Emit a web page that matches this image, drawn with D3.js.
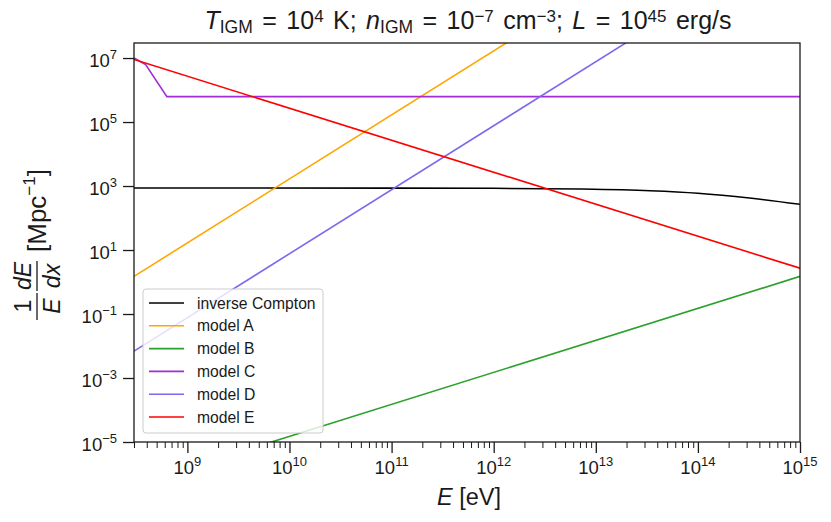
<!DOCTYPE html>
<html>
<head>
<meta charset="utf-8">
<script src="https://cdn.jsdelivr.net/npm/d3@7"></script>
<style>
  body { margin: 0; background: white; }
  text { font-family: "Liberation Sans", Arial, sans-serif; fill: #1a1a1a; }
</style>
</head>
<body>
<div id="container"></div>
<script>
// values

let icEnergy = [3e8, 1e11, 1e12, 7e12, 3.4e13, 1e14, 3.2e14, 1e15];
let icRate = [870, 860, 848, 806, 713, 595, 422, 268];

let aEnergy = [3e8, 2e12];
let aRate = [1.5, 6.7e7];

let bEnergy = [3e8, 1e15];
let bRate = [4.5e-7, 1.5];

let cEnergy = [3e8, 3.9e8, 6.3e8, 1e15];
let cRate = [1e7, 6.2e6, 6.2e5, 6.2e5];

let dEnergy = [3e8, 3e13];
let dRate = [0.0069, 6.9e7];

let eEnergy = [3e8, 1e15];
let eRate = [9e6, 2.7];

let seriesNames = ["inverse Compton", "model A", "model B", "model C", "model D", "model E"];
let seriesColors = ["#000000", "#ffa500", "#2ca02c", "#a32cd6", "#7b68ee", "#ff0000"];

let xTickExp = [9, 10, 11, 12, 13, 14, 15];
let yTickExp = [-5, -3, -1, 1, 3, 5, 7];

let width = 831, height = 522;
let plotLeft = 134, plotRight = 800, plotTop = 43, plotBottom = 442;

let viz = d3.select("#container")
  .append("svg")
    .attr("width", width)
    .attr("height", height)
    .style("background-color", "white");

let x = d3.scaleLog().domain([3e8, 1e15]).range([plotLeft, plotRight]);
let y = d3.scaleLog().domain([1e-5, 2.95e7]).range([plotBottom, plotTop]);

viz.append("clipPath").attr("id", "plotclip")
  .append("rect")
    .attr("x", plotLeft).attr("y", plotTop)
    .attr("width", plotRight - plotLeft).attr("height", plotBottom - plotTop);

// data lines
let series = [
  d3.zip(icEnergy, icRate),
  d3.zip(aEnergy, aRate),
  d3.zip(bEnergy, bRate),
  d3.zip(cEnergy, cRate),
  d3.zip(dEnergy, dRate),
  d3.zip(eEnergy, eRate)
];

let line = d3.line().x(d => x(d[0])).y(d => y(d[1]));

viz.append("g").attr("clip-path", "url(#plotclip)")
  .selectAll("path")
  .data(series)
  .join("path")
    .attr("d", (d, i) => i == 0 ? line.curve(d3.curveMonotoneX)(d) : line.curve(d3.curveLinear)(d))
    .attr("fill", "none")
    .attr("stroke", (d, i) => seriesColors[i])
    .attr("stroke-width", 1.6);

// axes
let xMinor = [];
for (let k = 8; k <= 14; k++) {
  for (let m = 2; m <= 9; m++) {
    let v = m * Math.pow(10, k);
    if (v >= 3e8 && v <= 1e15) xMinor.push(v);
  }
}

viz.append("g")
  .attr("transform", `translate(0,${plotBottom})`)
  .call(d3.axisBottom(x).tickValues(xMinor).tickSize(6).tickFormat(""))
  .call(g => g.select(".domain").remove())
  .call(g => g.selectAll("line").attr("stroke", "#1a1a1a").attr("stroke-width", 1));

viz.append("g")
  .attr("transform", `translate(0,${plotBottom})`)
  .call(d3.axisBottom(x).tickValues(xTickExp.map(e => Math.pow(10, e))).tickSize(11).tickFormat(""))
  .call(g => g.select(".domain").remove())
  .call(g => g.selectAll("line").attr("stroke", "#1a1a1a").attr("stroke-width", 1.3));

viz.append("g")
  .attr("transform", `translate(${plotLeft},0)`)
  .call(d3.axisLeft(y).tickValues(yTickExp.map(e => Math.pow(10, e))).tickSize(11).tickFormat(""))
  .call(g => g.select(".domain").remove())
  .call(g => g.selectAll("line").attr("stroke", "#1a1a1a").attr("stroke-width", 1.3));

// tick labels as 10^n
let xLabels = viz.append("g").selectAll("text")
  .data(xTickExp)
  .join("text")
    .attr("x", d => x(Math.pow(10, d)))
    .attr("y", 474)
    .attr("text-anchor", "middle")
    .attr("font-size", 18.5);
xLabels.append("tspan").text("10");
xLabels.append("tspan").text(d => d).attr("dy", -8).attr("font-size", 13);

let yLabels = viz.append("g").selectAll("text")
  .data(yTickExp)
  .join("text")
    .attr("x", 117)
    .attr("y", d => y(Math.pow(10, d)) + 8.5)
    .attr("text-anchor", "end")
    .attr("font-size", 18.5);
yLabels.append("tspan").text("10");
yLabels.append("tspan").text(d => String(d).replace("-", "\u2212")).attr("dy", -8).attr("font-size", 13);

// frame
viz.append("rect")
  .attr("x", plotLeft).attr("y", plotTop)
  .attr("width", plotRight - plotLeft).attr("height", plotBottom - plotTop)
  .attr("fill", "none")
  .attr("stroke", "#1a1a1a")
  .attr("stroke-width", 1.3);

// legend
let legend = viz.append("g");
legend.append("rect")
  .attr("x", 143).attr("y", 289)
  .attr("width", 180).attr("height", 144)
  .attr("rx", 3)
  .attr("fill", "white").attr("fill-opacity", 0.8)
  .attr("stroke", "#cccccc").attr("stroke-width", 1);

let rows = legend.selectAll("g.row")
  .data(seriesNames)
  .join("g")
    .attr("class", "row")
    .attr("transform", (d, i) => `translate(0,${303 + i * 22.8})`);
rows.append("line")
  .attr("x1", 149).attr("x2", 184)
  .attr("stroke", (d, i) => seriesColors[i])
  .attr("stroke-width", 1.6);
rows.append("text")
  .attr("x", 197).attr("y", 5.5)
  .attr("font-size", 15.7)
  .text(d => d);

// title
let title = viz.append("text")
  .attr("x", 468).attr("y", 29)
  .attr("text-anchor", "middle")
  .attr("font-size", 25)
  .attr("word-spacing", 2.5);
title.append("tspan").text("T").attr("font-style", "italic");
title.append("tspan").text("IGM").attr("font-size", 17.5).attr("dy", 4);
title.append("tspan").text(" = 10").attr("dy", -4);
title.append("tspan").text("4").attr("font-size", 17).attr("dy", -7);
title.append("tspan").text(" K; ").attr("dy", 7);
title.append("tspan").text("n").attr("font-style", "italic");
title.append("tspan").text("IGM").attr("font-size", 17.5).attr("dy", 4);
title.append("tspan").text(" = 10").attr("dy", -4);
title.append("tspan").text("\u22127").attr("font-size", 17).attr("dy", -7);
title.append("tspan").text(" cm").attr("dy", 7);
title.append("tspan").text("\u22123").attr("font-size", 17).attr("dy", -7);
title.append("tspan").text("; ").attr("dy", 7);
title.append("tspan").text("L").attr("font-style", "italic");
title.append("tspan").text(" = 10");
title.append("tspan").text("45").attr("font-size", 17).attr("dy", -7);
title.append("tspan").text(" erg/s").attr("dy", 7);

// x label
let xl = viz.append("text")
  .attr("x", 469).attr("y", 505)
  .attr("text-anchor", "middle")
  .attr("font-size", 23.5);
xl.append("tspan").text("E").attr("font-style", "italic");
xl.append("tspan").text(" [eV]");

// y label: (1/E)(dE/dx) [Mpc^-1], rotated
let yl = viz.append("g").attr("transform", "translate(37,243) rotate(-90)");
yl.append("text").attr("x", -63).attr("y", -6).attr("text-anchor", "middle")
  .attr("font-size", 23).text("1");
yl.append("text").attr("x", -63).attr("y", 23).attr("text-anchor", "middle")
  .attr("font-size", 23).attr("font-style", "italic").text("E");
yl.append("line").attr("x1", -77).attr("x2", -50).attr("y1", 0).attr("y2", 0)
  .attr("stroke", "#1a1a1a").attr("stroke-width", 1.3);
yl.append("text").attr("x", -33).attr("y", -6).attr("text-anchor", "middle")
  .attr("font-size", 23).attr("font-style", "italic").text("dE");
yl.append("text").attr("x", -33).attr("y", 23).attr("text-anchor", "middle")
  .attr("font-size", 23).attr("font-style", "italic").text("dx");
yl.append("line").attr("x1", -48).attr("x2", -18).attr("y1", 0).attr("y2", 0)
  .attr("stroke", "#1a1a1a").attr("stroke-width", 1.3);
let unit = yl.append("text").attr("x", -9).attr("y", 9)
  .attr("font-size", 26);
unit.append("tspan").text("[Mpc");
unit.append("tspan").text("\u22121").attr("font-size", 17).attr("dy", -11);
unit.append("tspan").text("]").attr("dy", 11);
</script>
</body>
</html>
